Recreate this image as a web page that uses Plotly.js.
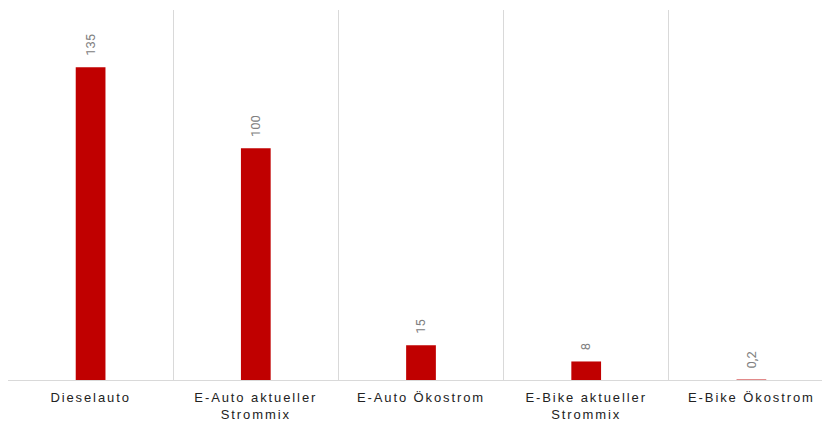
<!DOCTYPE html>
<html><head><meta charset="utf-8">
<script src="https://cdn.plot.ly/plotly-3.0.1.min.js"></script>
<style>
html,body{margin:0;padding:0;overflow:hidden;background:#fff;}
.xtick text{letter-spacing:1.9px;}
</style>
</head><body>
<div id="chart"></div>
<script>
const categories = ["Dieselauto", "E-Auto aktueller<br>Strommix", "E-Auto Ökostrom", "E-Bike aktueller<br>Strommix", "E-Bike Ökostrom"];
const values = [135, 100, 15, 8, 0.2];
const valueLabels = ["135", "100", "15", "8", "0,2"];

const annotations = categories.map((c, i) => ({
  x: c, y: values[i], xref: 'x', yref: 'y',
  text: valueLabels[i], textangle: -90, showarrow: false,
  yanchor: 'bottom', yshift: 9,
  font: {family: 'Roboto, Arial, sans-serif', size: 13, color: '#808080'}
}));

Plotly.newPlot('chart', [{
  type: 'bar', x: categories, y: values,
  marker: {color: '#c00000'}, width: 0.18, hoverinfo: 'none'
}], {
  width: 834, height: 421,
  margin: {l: 8, r: 0, t: 10, b: 41},
  paper_bgcolor: '#fff', plot_bgcolor: '#fff',
  showlegend: false,
  xaxis: {
    type: 'category', tickson: 'boundaries', showgrid: true, gridcolor: '#d9d9d9', gridwidth: 1,
    showline: true, linecolor: '#d9d9d9', linewidth: 1, ticks: '', zeroline: false,
    ticklabelstandoff: 5,
    tickfont: {family: 'Liberation Sans, Arial, sans-serif', size: 13, color: '#222'}
  },
  yaxis: {range: [0, 159.7], showgrid: false, zeroline: false, showticklabels: false, fixedrange: true},
  annotations: annotations
}, {displayModeBar: false, staticPlot: true});
</script>
</body></html>
